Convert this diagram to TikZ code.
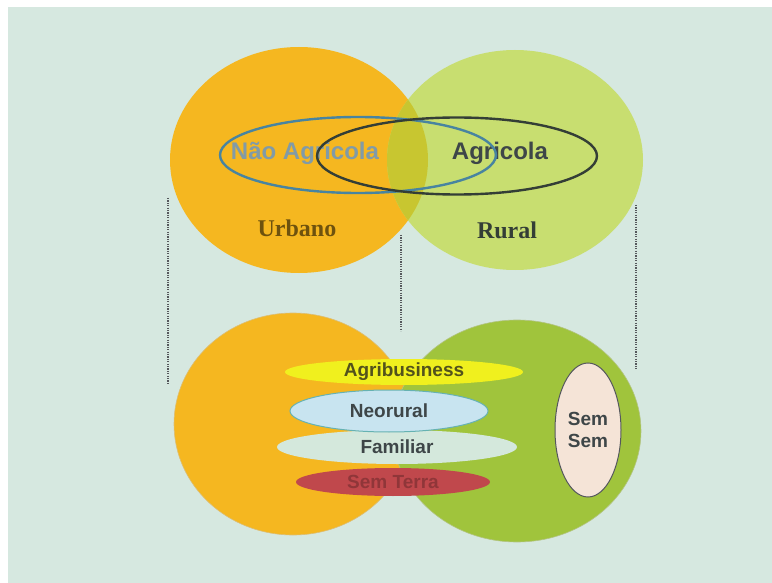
\documentclass[tikz,border=0pt]{standalone}
\usepackage{fontspec}
\setmainfont{Liberation Serif}
\setsansfont{Liberation Sans}
\usetikzlibrary{shapes.geometric, positioning}

\definecolor{bgmint}{RGB}{214,232,224}
\definecolor{urbanorange}{RGB}{245,183,32}
\definecolor{ruralgreen}{RGB}{200,222,112}
\definecolor{mixgreen}{RGB}{200,198,48}
\definecolor{lowgreen}{RGB}{160,196,60}
\definecolor{ringblue}{RGB}{72,132,160}
\definecolor{ringdark}{RGB}{52,62,54}
\definecolor{guidegray}{RGB}{85,88,92}
\definecolor{agriyellow}{RGB}{240,240,30}
\definecolor{neoblue}{RGB}{200,228,240}
\definecolor{famgreen}{RGB}{212,232,220}
\definecolor{terrared}{RGB}{192,72,76}
\definecolor{semcream}{RGB}{245,228,215}
\definecolor{labelgray}{RGB}{62,70,72}
\definecolor{labelolive}{RGB}{82,82,28}

\begin{document}
\begin{tikzpicture}[x=1pt, y=-1pt,
    zone/.style={ellipse, inner sep=0pt},
    ring/.style={ellipse, draw, line width=2.4pt, inner sep=0pt},
    band/.style={ellipse, inner sep=0pt, align=center, font=\sffamily\bfseries\fontsize{19}{22}\selectfont},
    toplabel/.style={font=\sffamily\bfseries\fontsize{24}{24}\selectfont},
    placelabel/.style={font=\rmfamily\bfseries\fontsize{24}{24}\selectfont},
    guide/.style={dash pattern=on 1.2pt off 1.2pt, line width=1.3pt, guidegray},
]
    \useasboundingbox (0,0) rectangle (772,583);
    \fill[white] (0,0) rectangle (772,583);
    \fill[bgmint] (8,7) rectangle (772,583);

    % upper pair
    \node[zone, fill=urbanorange, minimum width=258pt, minimum height=226pt] (urbano) at (299,160) {};
    \node[zone, fill=ruralgreen, minimum width=256pt, minimum height=220pt] (rural) at (515,160) {};
    \begin{scope}
        \clip (299,160) ellipse [x radius=129pt, y radius=113pt];
        \fill[mixgreen] (515,160) ellipse [x radius=128pt, y radius=110pt];
    \end{scope}

    \node[toplabel, text=ringblue!55!gray!80!white] (naoagri) at (305,153) {Não Agricola};
    \node[toplabel, text=labelgray] (agri) at (500,153) {Agricola};
    \node[ring, draw=ringblue, minimum width=276pt, minimum height=76pt] (naoring) at (358,155) {};
    \node[ring, draw=ringdark, minimum width=280pt, minimum height=77pt] (agriring) at (457,156) {};

    \node[placelabel, text=black!55!urbanorange] (urblabel) at (297,228) {Urbano};
    \node[placelabel, text=ringdark] (rurlabel) at (507,230) {Rural};

    % dotted guides
    \coordinate (g1a) at (168,198);
    \coordinate (g1b) at (168,385);
    \coordinate (g2a) at (401,235);
    \coordinate (g2b) at (401,331);
    \coordinate (g3a) at (636,205);
    \coordinate (g3b) at (636,370);
    \draw[guide] (g1a) -- (g1b);
    \draw[guide] (g2a) -- (g2b);
    \draw[guide] (g3a) -- (g3b);

    % lower pair
    \node[zone, fill=urbanorange, draw=urbanorange!80!black!60, line width=0.6pt, minimum width=238pt, minimum height=222pt] (urbano2) at (293,424) {};
    \node[zone, fill=lowgreen, draw=lowgreen!80!black!60, line width=0.6pt, minimum width=248pt, minimum height=222pt] (rural2) at (517,431) {};

    \node[band, fill=agriyellow, text=labelolive, minimum width=238pt, minimum height=26pt] (agribiz) at (404,372) {Agribusiness};
    \node[band, fill=famgreen, text=labelgray, minimum width=240pt, minimum height=34pt] (familiar) at (397,447) {Familiar};
    \node[band, fill=neoblue, draw=teal!60, line width=1pt, text=labelgray, minimum width=198pt, minimum height=42pt] (neorural) at (389,411) {Neorural};
    \node[band, fill=terrared, text=terrared!75!black, minimum width=194pt, minimum height=28pt] (semterra) at (393,482) {Sem Terra};
    \node[band, fill=semcream, draw=guidegray, line width=1pt, text=labelgray, minimum width=66pt, minimum height=134pt] (semsem) at (588,430) {Sem\\Sem};
\end{tikzpicture}
\end{document}
